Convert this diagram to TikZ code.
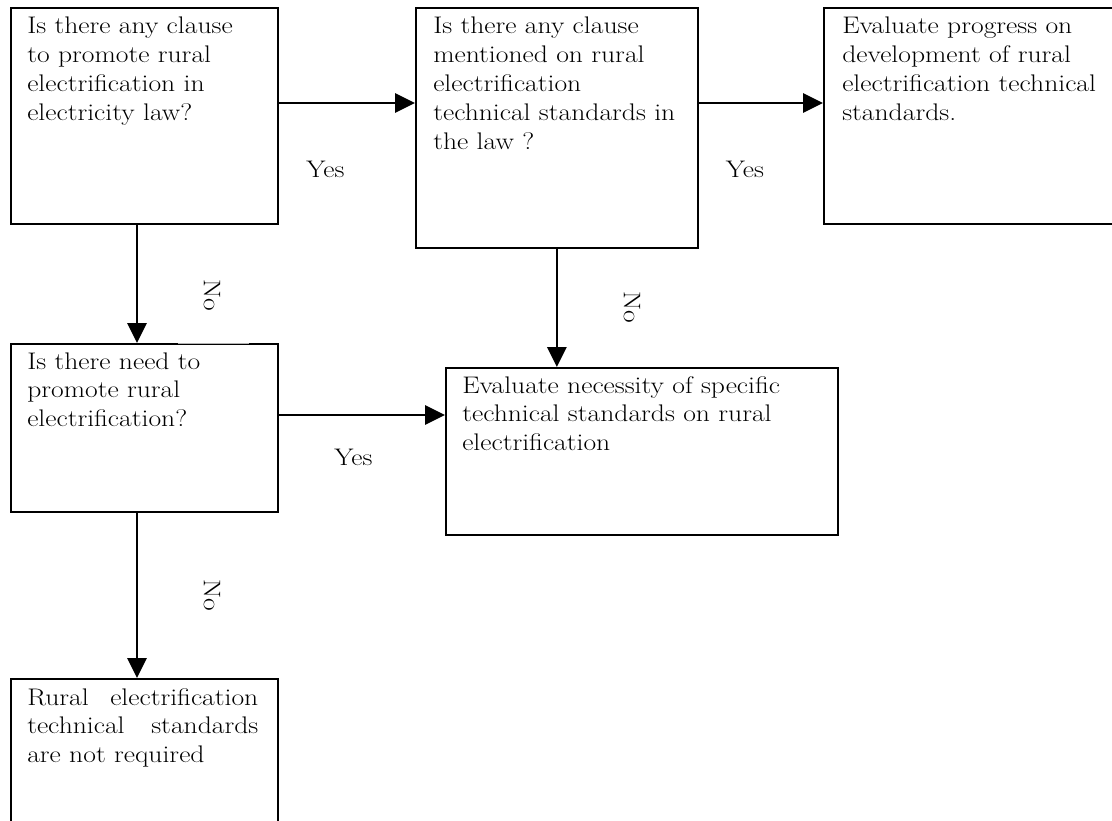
\documentclass[tikz,border=0pt]{standalone}
\usetikzlibrary{arrows.meta,calc}
% body text is set a little wider than Latin Modern's natural width
\newcommand\widetext[1]{\scalebox{1.15}[1]{#1}}
\newcommand\boxlines[1]{\widetext{\parbox[t]{260pt}{#1}}}
\begin{document}
\begin{tikzpicture}[x=0.75pt,y=-0.75pt,
  flowbox/.style={draw=black,line width=1.3pt,rectangle,inner sep=0pt,anchor=north west},
  boxtext/.style={anchor=base west,inner sep=0pt,font=\fontsize{18}{21.6}\selectfont},
  answer/.style={inner sep=0pt,font=\fontsize{18}{21.6}\selectfont},
  flow/.style={line width=1.3pt,-{Triangle[length=15pt,width=14.5pt]}}]
\useasboundingbox (0,0) rectangle (1112,820);

% decision and outcome boxes
\node[flowbox,minimum width=200.25pt,minimum height=162pt] (A) at (10,7) {};
\node[flowbox,minimum width=211.5pt,minimum height=180pt] (B) at (415,7) {};
\node[flowbox,minimum width=226.5pt,minimum height=162pt] (C) at (823,7) {};
\node[flowbox,minimum width=200.25pt,minimum height=126pt] (D) at (10,343) {};
\node[flowbox,minimum width=294pt,minimum height=125.25pt] (E) at (445,367) {};
\node[flowbox,minimum width=200.25pt,minimum height=130pt] (F) at (10,678) {};

% faint stretch on the top edge of the second question
\coordinate (gapL) at (178,343);
\coordinate (gapR) at (249,343);
\draw[white,line width=1.8pt] (gapL) -- (gapR);
\draw[black!30,line width=0.5pt] (gapL) -- (gapR);

% box texts
\node[boxtext] (tA) at ($(A.north west)+(17,27)$)
  {\boxlines{Is there any clause\\to promote rural\\electrification in\\electricity law?}};
\node[boxtext] (tB) at ($(B.north west)+(18,27)$)
  {\boxlines{Is there any clause\\mentioned on rural\\electrification\\technical standards in\\the law ?}};
\node[boxtext] (tC) at ($(C.north west)+(19,27)$)
  {\boxlines{Evaluate progress on\\development of rural\\electrification technical\\standards.}};
\node[boxtext] (tD) at ($(D.north west)+(17,26)$)
  {\boxlines{Is there need to\\promote rural\\electrification?}};
\node[boxtext] (tE) at ($(E.north west)+(17,26)$)
  {\boxlines{Evaluate necessity of specific\\technical standards on rural\\electrification}};
\node[boxtext] (tF) at ($(F.north west)+(17,27)$)
  {\boxlines{\leavevmode\hbox to 150.7pt{Rural\hfill electrification}\\
   \leavevmode\hbox to 150.7pt{technical\hfill standards}\\
   are not required}};

% connectors
\coordinate (aOut) at ($(A.north east)+(0,96)$);
\coordinate (bOut) at ($(B.north east)+(0,96)$);
\coordinate (dOut) at ($(D.north east)+(0,72)$);
\coordinate (aDown) at ($(A.south west)+(127,0)$);
\coordinate (dDown) at ($(D.south west)+(127,0)$);
\draw[flow] (aOut) -- (aOut -| B.west);
\draw[flow] (bOut) -- (bOut -| C.west);
\draw[flow] (aDown) -- (aDown |- D.north);
\draw[flow] (B.south) -- (B.south |- E.north);
\draw[flow] (dOut) -- (dOut -| E.west);
\draw[flow] (dDown) -- (dDown |- F.north);

% branch labels
\node[answer,anchor=base] (yAB) at (325.5,177) {\widetext{Yes}};
\node[answer,anchor=base] (yBC) at (745,177) {\widetext{Yes}};
\node[answer,anchor=base] (yDE) at (353.5,465) {\widetext{Yes}};
\node[answer,rotate=-90] (nAD) at (212,295) {\widetext{No}};
\node[answer,rotate=-90] (nBE) at (632,307) {\widetext{No}};
\node[answer,rotate=-90] (nDF) at (212,595) {\widetext{No}};
\end{tikzpicture}
\end{document}
